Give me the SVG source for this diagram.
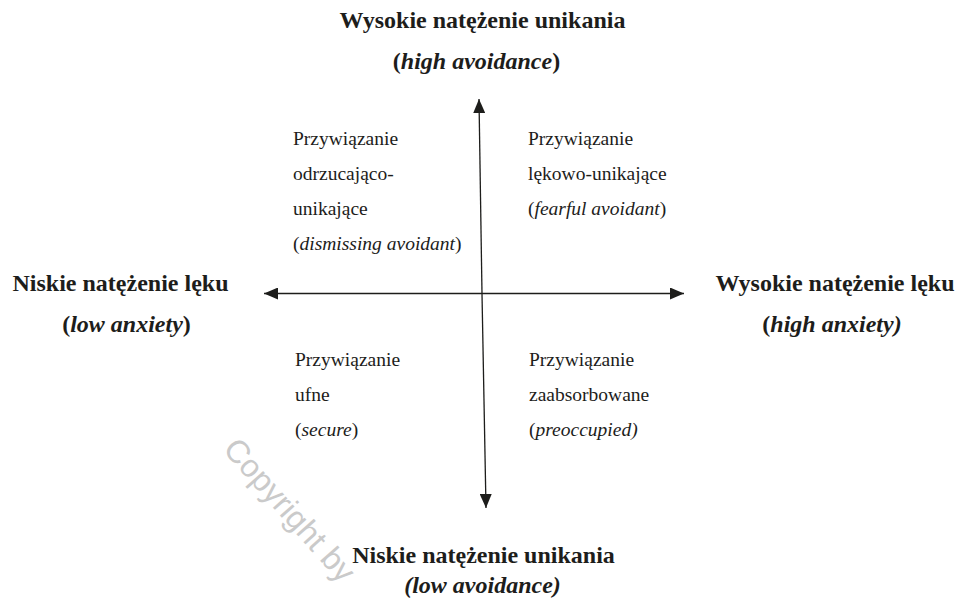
<svg xmlns="http://www.w3.org/2000/svg" width="959" height="598" viewBox="0 0 959 598">
  <style>
    .head { font-family: 'Liberation Serif', 'DejaVu Serif', serif; font-size: 24px; font-weight: bold; fill: #1d1d1b; text-anchor: middle; }
    .quad { font-family: 'Liberation Serif', 'DejaVu Serif', serif; font-size: 19.5px; fill: #1d1d1b; }
    .it { font-style: italic; }
    .axis { stroke: #1d1d1b; stroke-width: 1.3; fill: none; }
    .mark { font-family: 'Liberation Sans', 'DejaVu Sans', sans-serif; font-size: 32px; fill: #cacaca; }
  </style>
  <defs>
    <marker id="head" markerUnits="userSpaceOnUse" markerWidth="14" markerHeight="12" refX="14" refY="6" orient="auto">
      <path d="M0,0 L14,6 L0,12 Z" fill="#1d1d1b"/>
    </marker>
  </defs>
  <rect width="959" height="598" fill="#ffffff"/>

  <!-- diagonal watermark -->
  <text class="mark" transform="translate(222,450) rotate(48.5)">Copyright by</text>

  <!-- axes -->
  <g id="connectors">
    <line class="axis" x1="482" y1="294" x2="479" y2="99" marker-end="url(#head)"/>
    <line class="axis" x1="482" y1="294" x2="486" y2="508" marker-end="url(#head)"/>
    <line class="axis" x1="482" y1="293.5" x2="264" y2="293.5" marker-end="url(#head)"/>
    <line class="axis" x1="482" y1="293.5" x2="684" y2="293.5" marker-end="url(#head)"/>
  </g>

  <!-- axis end labels -->
  <g id="high-avoidance">
    <text class="head" x="482.5" y="28">Wysokie natężenie unikania</text>
    <text class="head" x="476.5" y="69">(<tspan class="it">high avoidance</tspan>)</text>
  </g>
  <g id="low-anxiety">
    <text class="head" x="120.5" y="291">Niskie natężenie lęku</text>
    <text class="head" x="126.5" y="332">(<tspan class="it">low anxiety</tspan>)</text>
  </g>
  <g id="high-anxiety">
    <text class="head" x="835" y="291">Wysokie natężenie lęku</text>
    <text class="head" x="832" y="332">(<tspan class="it">high anxiety)</tspan></text>
  </g>
  <g id="low-avoidance">
    <text class="head" x="483.5" y="563">Niskie natężenie unikania</text>
    <text class="head it" x="482.5" y="593">(low avoidance)</text>
  </g>

  <!-- quadrant labels -->
  <g id="dismissing-avoidant">
    <text class="quad" x="293" y="145">Przywiązanie</text>
    <text class="quad" x="293" y="180">odrzucająco-</text>
    <text class="quad" x="293" y="215">unikające</text>
    <text class="quad" x="293" y="250">(<tspan class="it">dismissing avoidant</tspan>)</text>
  </g>
  <g id="fearful-avoidant">
    <text class="quad" x="528" y="145">Przywiązanie</text>
    <text class="quad" x="528" y="180">lękowo-unikające</text>
    <text class="quad" x="528" y="215">(<tspan class="it">fearful avoidant</tspan>)</text>
  </g>
  <g id="secure">
    <text class="quad" x="295" y="366">Przywiązanie</text>
    <text class="quad" x="295" y="401">ufne</text>
    <text class="quad" x="295" y="436">(<tspan class="it">secure</tspan>)</text>
  </g>
  <g id="preoccupied">
    <text class="quad" x="529" y="366">Przywiązanie</text>
    <text class="quad" x="529" y="401">zaabsorbowane</text>
    <text class="quad" x="529" y="436">(<tspan class="it">preoccupied)</tspan></text>
  </g>
</svg>
